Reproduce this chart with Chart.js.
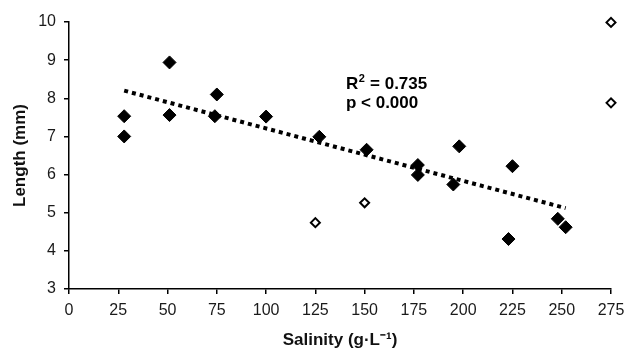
<!DOCTYPE html>
<html lang="en">
  <head>
    <meta charset="UTF-8" />
    <title>Length vs salinity</title>
    <style>
      * {
        box-sizing: border-box;
        margin: 0;
        padding: 0;
      }
      body,
      html {
        width: 628px;
        height: 351px;
        background-color: white;
        overflow: hidden;
      }
    </style>
  </head>
  <body>
    <canvas id="salinityChart" width="628" height="351"></canvas>
    <script src="https://cdn.jsdelivr.net/npm/chart.js"></script>
    <script>
      // filled points (included in regression)
      const salinityIn = [28, 28, 51, 51, 74, 75, 100, 127, 151, 177, 177, 195, 198, 223, 225, 248, 252];
      const lengthIn = [7.53, 7.0, 8.94, 7.56, 7.53, 8.1, 7.52, 6.99, 6.65, 6.25, 5.99, 5.74, 6.74, 4.31, 6.22, 4.84, 4.62];
      // open points (excluded)
      const salinityOut = [125, 150, 275, 275];
      const lengthOut = [4.74, 5.26, 9.99, 7.88];
      // trend line ends
      const trendX = [28, 252];
      const trendY = [8.2, 5.12];
      const xTicks = [0, 275, 25];
      const yTicks = [3, 10, 1];
      const statLines = ["R2 = 0.735", "p < 0.000"];

      const toPoints = (xs, ys) => xs.map((x, i) => ({ x: x, y: ys[i] }));

      const fontFamily = "'Liberation Sans', Arial, sans-serif";

      const statsLabel = {
        id: "statsLabel",
        afterDatasetsDraw(chart) {
          const ctx = chart.ctx;
          const x = chart.scales.x.getPixelForValue(140.5);
          const y1 = chart.scales.y.getPixelForValue(8.37);
          const y2 = chart.scales.y.getPixelForValue(7.87);
          ctx.save();
          ctx.fillStyle = "#000";
          ctx.textBaseline = "middle";
          ctx.textAlign = "left";
          ctx.font = "bold 17px " + fontFamily;
          // R² with a real superscript
          ctx.fillText("R", x, y1);
          let w = ctx.measureText("R").width;
          ctx.font = "bold 11px " + fontFamily;
          ctx.fillText("2", x + w + 0.5, y1 - 5);
          let w2 = ctx.measureText("2").width;
          ctx.font = "bold 17px " + fontFamily;
          ctx.fillText(statLines[0].slice(2), x + w + w2 + 1, y1);
          ctx.fillText(statLines[1], x, y2);
          ctx.restore();
        },
      };

      const axisFont = { family: fontFamily, size: 16 };
      const titleFont = { family: fontFamily, size: 17, weight: "bold" };

      new Chart(document.getElementById("salinityChart"), {
        type: "scatter",
        data: {
          datasets: [
            {
              label: "trend",
              type: "line",
              data: toPoints(trendX, trendY),
              borderColor: "#000",
              borderWidth: 4,
              borderDash: [4, 4],
              borderCapStyle: "butt",
              pointRadius: 0,
              fill: false,
            },
            {
              label: "included",
              data: toPoints(salinityIn, lengthIn),
              pointStyle: "rectRot",
              pointRadius: 6.5,
              backgroundColor: "#000",
              borderColor: "#000",
              borderWidth: 1,
              clip: false,
            },
            {
              label: "excluded",
              data: toPoints(salinityOut, lengthOut),
              pointStyle: "rectRot",
              pointRadius: 4.5,
              backgroundColor: "#fff",
              borderColor: "#000",
              borderWidth: 2,
              clip: false,
            },
          ],
        },
        options: {
          responsive: false,
          animation: false,
          layout: { padding: { top: 22, right: 17, bottom: 0, left: 0 } },
          plugins: {
            legend: { display: false },
            tooltip: { enabled: false },
          },
          scales: {
            x: {
              type: "linear",
              min: xTicks[0],
              max: xTicks[1],
              ticks: { stepSize: xTicks[2], color: "#1a1a1a", font: axisFont, padding: 7, maxRotation: 0, autoSkip: false },
              grid: { drawOnChartArea: false, drawTicks: true, tickLength: 5, color: "#000", lineWidth: 1.5 },
              border: { display: true, color: "#000", width: 1.5 },
              title: { display: true, text: "Salinity (g·L⁻¹)", color: "#111", font: titleFont, padding: { top: 4, bottom: 0 } },
              afterFit(scale) {
                scale.height = 62;
                scale.paddingRight = 0;
                scale.paddingLeft = 0;
              },
            },
            y: {
              min: yTicks[0],
              max: yTicks[1],
              ticks: { stepSize: yTicks[2], color: "#1a1a1a", font: axisFont, padding: 8, autoSkip: false },
              grid: { drawOnChartArea: false, drawTicks: true, tickLength: 5, color: "#000", lineWidth: 1.5 },
              border: { display: true, color: "#000", width: 1.5 },
              title: { display: true, text: "Length (mm)", color: "#111", font: titleFont, padding: { top: 10, bottom: 0 } },
              afterFit(scale) {
                scale.width = 69;
                scale.paddingTop = 0;
                scale.paddingBottom = 0;
              },
            },
          },
        },
        plugins: [statsLabel],
      });
    </script>
  </body>
</html>
